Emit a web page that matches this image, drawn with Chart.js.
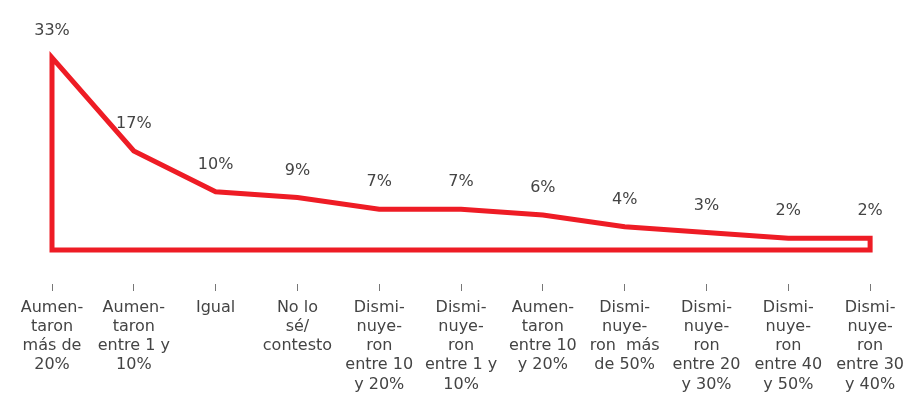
<!DOCTYPE html>
<html>
<head>
<meta charset="utf-8">
<script src="https://cdn.jsdelivr.net/npm/chart.js@4/dist/chart.umd.min.js"></script>
<style>
  html, body { margin: 0; padding: 0; background: #fff; }
  canvas { display: block; }
</style>
</head>
<body>
<canvas id="myChart" width="911" height="393"></canvas>
<script>
// categories (multi-line, as printed under each tick)
const categories = [
    ['Aumen-', 'taron', 'más de', '20%'],
    ['Aumen-', 'taron', 'entre 1 y', '10%'],
    ['Igual'],
    ['No lo', 'sé/', 'contesto'],
    ['Dismi-', 'nuye-', 'ron', 'entre 10', 'y 20%'],
    ['Dismi-', 'nuye-', 'ron', 'entre 1 y', '10%'],
    ['Aumen-', 'taron', 'entre 10', 'y 20%'],
    ['Dismi-', 'nuye-', 'ron  más', 'de 50%'],
    ['Dismi-', 'nuye-', 'ron', 'entre 20', 'y 30%'],
    ['Dismi-', 'nuye-', 'ron', 'entre 40', 'y 50%'],
    ['Dismi-', 'nuye-', 'ron', 'entre 30', 'y 40%']
];
const values = [33, 17, 10, 9, 7, 7, 6, 4, 3, 2, 2];
const valueLabels = values.map(v => v + '%');

const textColor = '#444';
const red = '#ee1c25';

// closed outline: the curve, down to zero on the right, back along zero, up again
const last = values.length - 1;
const outline = values.map((v, i) => ({ x: i, y: v })).concat([
    { x: last, y: 0 },
    { x: 0, y: 0 },
    { x: 0, y: values[0] },
    { x: 1, y: values[1] } // repeat first segment so the corner gets a proper join
]);

// percent labels above each point
const valueLabelPlugin = {
    id: 'valueLabels',
    afterDatasetsDraw(chart) {
        const ctx = chart.ctx;
        const xs = chart.scales.x;
        const ys = chart.scales.y;
        ctx.save();
        ctx.font = '16px "DejaVu Sans"';
        ctx.fillStyle = textColor;
        ctx.textAlign = 'center';
        ctx.textBaseline = 'middle';
        values.forEach((v, i) => {
            ctx.fillText(valueLabels[i], xs.getPixelForValue(i), ys.getPixelForValue(v) - 27);
        });
        ctx.restore();
    }
};

const ctx = document.getElementById('myChart').getContext('2d');
const myChart = new Chart(ctx, {
    type: 'line',
    data: {
        datasets: [{
            data: outline,
            borderColor: red,
            borderWidth: 5,
            borderJoinStyle: 'miter',
            pointRadius: 0,
            tension: 0,
            fill: false,
            clip: false
        }]
    },
    options: {
        responsive: false,
        animation: false,
        layout: {
            padding: { left: 52, right: 38, top: 46, bottom: -8 }
        },
        scales: {
            x: {
                type: 'linear',
                min: 0,
                max: last,
                border: { display: false },
                grid: {
                    drawOnChartArea: false,
                    tickLength: 41,
                    tickBorderDash: [0, 34, 7, 100],
                    tickColor: '#777',
                    tickWidth: 1
                },
                ticks: {
                    stepSize: 1,
                    autoSkip: false,
                    maxRotation: 0,
                    padding: 7,
                    color: textColor,
                    font: { family: 'DejaVu Sans', size: 16, lineHeight: 1.2 },
                    callback: v => categories[v]
                }
            },
            y: {
                display: false,
                min: 0,
                max: 35
            }
        },
        plugins: {
            legend: { display: false },
            tooltip: { enabled: false }
        }
    },
    plugins: [valueLabelPlugin]
});
</script>
</body>
</html>
